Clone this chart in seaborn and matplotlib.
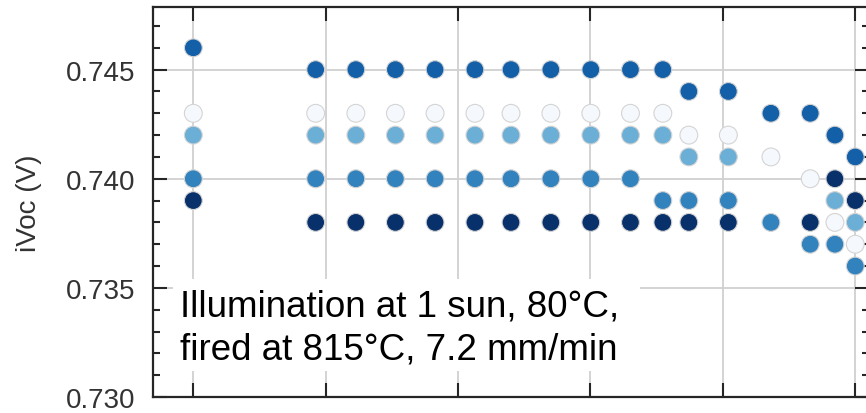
import numpy as np
import pandas as pd
import seaborn as sns
import matplotlib
matplotlib.use("Agg")
import matplotlib.pyplot as plt
from matplotlib.patches import Rectangle
from matplotlib.ticker import FormatStrFormatter, MultipleLocator, LogLocator, NullLocator

# Illumination time (log axis) at which each column of points was measured
time = [1, 8.4, 16.9, 33.6, 67, 134, 251, 502, 1006, 2004, 3520, 5535,
        11000, 23070, 45700, 70200, 100000]

# iVoc (V) for each sample group; None where no point was recorded
ivoc_a = [0.746, 0.745, 0.745, 0.745, 0.745, 0.745, 0.745, 0.745, 0.745, 0.745,
          0.745, 0.744, 0.744, 0.743, 0.743, 0.742, 0.741]
ivoc_b = [0.743, 0.743, 0.743, 0.743, 0.743, 0.743, 0.743, 0.743, 0.743, 0.743,
          0.743, 0.742, 0.742, 0.741, 0.740, 0.738, 0.737]
ivoc_c = [0.742, 0.742, 0.742, 0.742, 0.742, 0.742, 0.742, 0.742, 0.742, 0.742,
          0.742, 0.741, 0.741, None, None, 0.739, 0.738]
ivoc_d = [0.740, 0.740, 0.740, 0.740, 0.740, 0.740, 0.740, 0.740, 0.740, 0.740,
          0.739, 0.739, 0.739, 0.738, 0.737, 0.737, 0.736]
ivoc_e = [0.739, 0.738, 0.738, 0.738, 0.738, 0.738, 0.738, 0.738, 0.738, 0.738,
          0.738, 0.738, 0.738, None, 0.738, 0.740, 0.739]

groups = ["A", "B", "C", "D", "E"]
group_colors = ["#1460a8", "#f5f9fe", "#6baed6", "#3282be", "#08306b"]

y_ticks = [0.730, 0.735, 0.740, 0.745]
note = "Illumination at 1 sun, 80°C,\nfired at 815°C, 7.2 mm/min"

rows = []
for g, vals in zip(groups, [ivoc_a, ivoc_b, ivoc_c, ivoc_d, ivoc_e]):
    for t, v in zip(time, vals):
        if v is not None:
            rows.append({"time": t, "iVoc": v, "group": g})
df = pd.DataFrame(rows)

sns.set_theme(style="ticks")
plt.rcParams["font.family"] = ["Liberation Sans", "DejaVu Sans"]

fig = plt.figure(figsize=(8.66, 4.14), dpi=100)
ax = fig.add_axes([153 / 866, 16 / 414, 716 / 866, 390 / 414])

ax.set_xscale("log")
ax.set_xlim(0.496, 1.27e5)
ax.set_ylim(0.730, 0.74787)

ax.grid(True, which="major", color="#d0d0d0", linewidth=1.3, zorder=0)
ax.set_axisbelow(True)

sns.scatterplot(data=df, x="time", y="iVoc", hue="group",
                palette=dict(zip(groups, group_colors)), hue_order=groups,
                s=165, edgecolor="#d4d4d4", linewidth=0.8, legend=False,
                ax=ax, zorder=3)

ax.xaxis.set_major_locator(LogLocator(base=10, numticks=10))
ax.xaxis.set_minor_locator(NullLocator())
ax.set_yticks(y_ticks)
ax.yaxis.set_minor_locator(MultipleLocator(0.001))
ax.yaxis.set_major_formatter(FormatStrFormatter("%.3f"))

ax.tick_params(axis="both", which="both", direction="in", top=True, right=True,
               colors="#262626", width=1.5)
ax.tick_params(axis="both", which="major", length=10)
ax.tick_params(axis="both", which="minor", length=5)
ax.tick_params(axis="y", which="major", labelsize=20, labelcolor="#333333", pad=13)
ax.tick_params(axis="x", labelbottom=False)

for sp in ax.spines.values():
    sp.set_color("#262626")
    sp.set_linewidth(1.6)

ax.set_xlabel("")
ax.set_ylabel("iVoc (V)", fontsize=20, color="#333333", labelpad=17)

# white panel behind the annotation, hiding the grid there
ax.add_patch(Rectangle((0.028, 0.0667), 0.652, 0.236, transform=ax.transAxes,
                       facecolor="white", edgecolor="none", zorder=2))
ax.text(0.0377, 0.077, note, transform=ax.transAxes, fontsize=26.5,
        color="black", ha="left", va="bottom", zorder=5, linespacing=1.3)

fig.savefig("out.png", dpi=100)
